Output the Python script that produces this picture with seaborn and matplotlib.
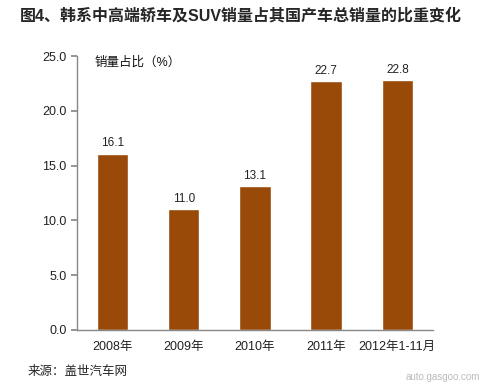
import numpy as np
import pandas as pd
import seaborn as sns
import matplotlib.pyplot as plt

years = ['2008年', '2009年', '2010年', '2011年', '2012年1-11月']
shares = [16.1, 11.0, 13.1, 22.7, 22.8]
yticks = [0.0, 5.0, 10.0, 15.0, 20.0, 25.0]

sns.set_theme(style='white')
plt.rcParams['font.family'] = ['Liberation Sans', 'Noto Sans CJK SC', 'DejaVu Sans']

df = pd.DataFrame({'year': years, 'share': shares})

fig = plt.figure(figsize=(4.87, 3.9), dpi=100)
ax = fig.add_axes([0.158, 0.154, 0.731, 0.702])
sns.barplot(data=df, x='year', y='share', color='#9A4A08', saturation=1,
            width=0.44, ax=ax)

for i, v in enumerate(shares):
    ax.text(i, v + 0.4, f'{v:.1f}', ha='center', va='bottom', fontsize=8.5, color='#222222')

ax.set_ylim(0, 25)
ax.set_xlim(-0.5, len(years) - 0.5)
ax.set_yticks(yticks)
ax.set_yticklabels([f'{t:.1f}' for t in yticks], fontsize=9, color='#222222')
ax.set_xticks(range(len(years)))
ax.set_xticklabels(years, fontsize=9, color='#222222')
ax.set_xlabel('')
ax.set_ylabel('')

# tick marks between categories on x axis
ax.set_xticks(np.arange(-0.5, len(years)), minor=True)
ax.tick_params(axis='x', which='major', length=0, pad=8)
ax.tick_params(axis='x', which='minor', length=4, color='#888888', direction='out')
ax.tick_params(axis='y', length=4, color='#888888', direction='out', left=True)

for s in ['top', 'right']:
    ax.spines[s].set_visible(False)
for s in ['left', 'bottom']:
    ax.spines[s].set_color('#888888')
    ax.spines[s].set_linewidth(1)

ax.text(0.05, 1.0, '销量占比（%）', transform=ax.transAxes, fontsize=9,
        va='top', ha='left', color='#111111')

fig.text(0.04, 0.96, '图4、韩系中高端轿车及SUV销量占其国产车总销量的比重变化',
         fontsize=11.5, fontweight='bold', va='center', ha='left')
fig.text(0.057, 0.045, '来源：盖世汽车网', fontsize=9, va='center', ha='left')
fig.text(0.985, 0.02, 'auto.gasgoo.com', fontsize=7, color='#bbbbbb',
         va='bottom', ha='right')

fig.savefig('out.png', dpi=100)
